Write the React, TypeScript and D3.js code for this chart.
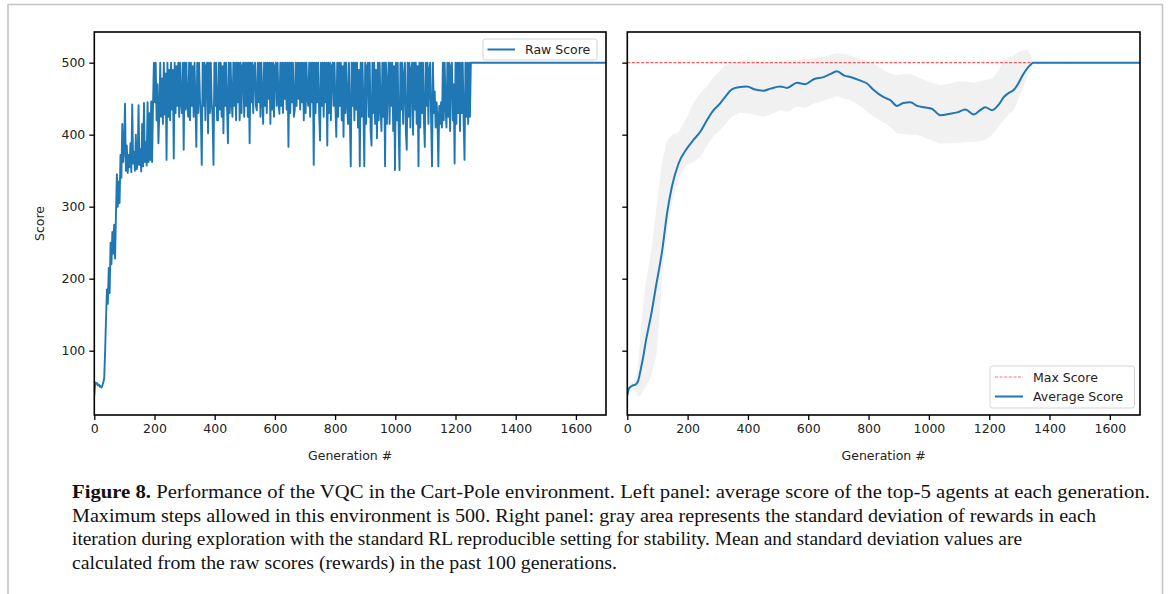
import React, { useEffect, useRef } from 'react';
import * as d3 from 'd3';

// Cart-Pole VQC figure: raw score (left) and running average with std band (right)

const BLUE = '#1f77b4';
const MAX_SCORE = 500;
const X_MAX = 1700;

// raw score, every 3rd generation (gen 0 .. 1251)
const RAW_STEP = 3;
const rawScore = [
  38, 56, 54, 55, 52, 53, 50, 51, 49, 52, 56,
  62, 100, 145, 185, 165, 215, 180, 250, 220, 265, 235, 275, 228, 290, 345, 300, 335, 305, 372, 340, 415, 362, 380,
  443, 350, 385, 347, 372, 355, 388, 348, 442, 360, 376, 350, 400, 352, 360, 441, 358, 380, 349, 415, 356, 444, 362, 390, 357, 445, 362, 430, 365, 446, 362, 440, 500,
  445, 500, 420, 470, 388, 430, 500, 425, 478, 415, 500, 428, 485, 365, 500, 425, 490, 420, 500, 435,
  490, 367, 500, 430, 495, 440, 500, 425, 500, 445, 430, 500, 379, 500, 435, 500, 440, 425, 500, 420,
  500, 440, 495, 425, 500, 445, 383, 500, 430, 500, 450, 425, 358, 500, 440, 500, 420, 495, 500, 402,
  500, 430, 500, 445, 425, 358, 500, 440, 500, 420, 420, 500, 435, 500, 425, 495, 402, 500, 440, 500,
  440, 388, 500, 430, 500, 445, 425, 500, 440, 500, 420, 500, 445, 500, 420, 500, 430, 495, 500, 425,
  500, 440, 500, 425, 500, 388, 500, 445, 500, 430, 495, 500, 440, 434, 500, 445, 500, 425, 500, 450,
  415, 500, 440, 500, 430, 500, 450, 500, 415, 500, 435, 500, 425, 495, 500, 440, 500, 445, 429, 500,
  440, 500, 430, 500, 450, 500, 435, 500, 383, 500, 430, 500, 445, 500, 425, 434, 500, 440, 500, 450,
  500, 435, 500, 445, 500, 420, 500, 430, 500, 450, 440, 500, 425, 500, 445, 500, 358, 500, 430, 500,
  445, 500, 430, 392, 500, 440, 500, 425, 500, 445, 500, 385, 500, 430, 500, 420, 495, 500, 440, 500,
  440, 397, 500, 425, 500, 440, 500, 420, 495, 397, 500, 430, 500, 445, 415, 500, 425, 356, 500, 440,
  500, 420, 500, 435, 500, 410, 490, 356, 500, 425, 500, 440, 356, 500, 415, 495, 500, 425, 500, 405,
  385, 500, 430, 500, 415, 490, 395, 500, 420, 500, 440, 405, 500, 425, 500, 356, 500, 415, 470, 500,
  415, 500, 440, 500, 405, 495, 351, 500, 420, 500, 410, 351, 500, 435, 500, 415, 480, 500, 405, 379,
  500, 425, 500, 410, 490, 500, 400, 500, 435, 500, 415, 495, 356, 500, 410, 500, 430, 500, 420, 383,
  500, 440, 500, 415, 490, 500, 420, 356, 500, 430, 460, 410, 445, 425, 356, 440, 415, 445, 410, 500,
  420, 500, 440, 410, 500, 425, 500, 405, 495, 500, 420, 470, 360, 500, 415, 500, 430, 500, 405, 500,
  430, 500, 420, 365, 500, 425, 500, 415, 500, 425,
  500,
];

// average of the last 100 generations, with the std band edges
const avgGen = [0, 6, 15, 28, 36, 45, 53, 61, 80, 97, 107, 116, 132, 148, 170, 198, 220, 242, 264, 286, 305, 320, 347, 370, 397, 420, 452, 475, 507, 529, 563, 590, 618, 651, 672, 695, 720, 740, 773, 795, 817, 850, 872, 894, 915, 939, 961, 985, 1010, 1038, 1070, 1094, 1121, 1149, 1170, 1187, 1210, 1232, 1248, 1265, 1281, 1295, 1309, 1326, 1337, 1345, 1700];
const avgScore = [38, 48, 51, 53, 58, 75, 92, 112, 152, 194, 217, 240, 291, 328, 360, 381, 393, 404, 420, 434, 442, 450, 463, 466, 467, 463, 461, 464, 467, 465, 472, 470, 477, 480, 484, 488, 482, 480, 475, 471, 462, 452, 448, 440, 444, 445, 440, 438, 436, 427, 429, 431, 435, 428, 434, 438, 434, 442, 452, 458, 462, 470, 481, 492, 497, 500, 500];
const bandHi = [42, 52, 56, 60, 80, 130, 165, 194, 240, 300, 335, 365, 392, 400, 403, 425, 445, 458, 467, 480, 488, 495, 500, 502, 504, 503, 501, 500, 502, 503, 504, 505, 506, 508, 511, 513, 512, 510, 505, 502, 499, 490, 485, 483, 484, 485, 480, 476, 472, 469, 471, 474, 474, 472, 474, 476, 478, 490, 502, 508, 510, 514, 517, 518, 512, 500, 500];
const bandLo = [34, 44, 46, 45, 36, 38, 44, 50, 65, 95, 150, 205, 265, 305, 340, 358, 362, 369, 385, 398, 405, 412, 425, 430, 430, 428, 425, 428, 434, 432, 439, 437, 443, 447, 450, 453, 450, 448, 440, 432, 425, 417, 411, 402, 401, 400, 400, 396, 392, 388, 388, 388, 390, 390, 391, 393, 400, 412, 420, 428, 434, 448, 462, 480, 490, 500, 500];

const xTicks = [0, 200, 400, 600, 800, 1000, 1200, 1400, 1600];
const yTicks = [100, 200, 300, 400, 500];

const captionLines = [
  { bold: 'Figure 8.', text: ' Performance of the VQC in the Cart-Pole environment. Left panel: average score of the top-5 agents at each generation.', width: 1078 },
  { bold: '', text: 'Maximum steps allowed in this environment is 500. Right panel: gray area represents the standard deviation of rewards in each', width: 1024 },
  { bold: '', text: 'iteration during exploration with the standard RL reproducible setting for stability. Mean and standard deviation values are', width: 950 },
  { bold: '', text: 'calculated from the raw scores (rewards) in the past 100 generations.', width: 545 },
];

const W = 1168;
const H = 594;
const FONT = 'DejaVu Sans, sans-serif';

const App = () => {
  const svgRef = useRef<SVGSVGElement>(null);

  useEffect(() => {
    if (!svgRef.current) return;
    const svg = d3.select(svgRef.current);
    svg.selectAll('*').remove();

    // outer page frame
    svg.append('path')
      .attr('d', `M8,${H} V4.5 H1162.5 V${H}`)
      .attr('fill', 'none')
      .attr('stroke', '#c4c4c4')
      .attr('stroke-width', 1.6);

    const top = 32, bottom = 415;
    const y = d3.scaleLinear().domain([10.7, 542.6]).range([bottom, top]);

    const panels = [
      { x0: 94.3, x1: 606, labels: true },
      { x0: 627.3, x1: 1140, labels: false },
    ];

    panels.forEach((p, pi) => {
      const x = d3.scaleLinear().domain([0, X_MAX]).range([p.x0, p.x1]);
      const g = svg.append('g');

      const clipId = `clip${pi}`;
      svg.append('clipPath').attr('id', clipId)
        .append('rect')
        .attr('x', p.x0).attr('y', top)
        .attr('width', p.x1 - p.x0).attr('height', bottom - top);

      const plot = g.append('g').attr('clip-path', `url(#${clipId})`);

      if (pi === 0) {
        const pts: [number, number][] = rawScore.map((v, i) => [i * RAW_STEP, v]);
        pts.push([X_MAX, MAX_SCORE]);
        const line = d3.line<[number, number]>().x(d => x(d[0])).y(d => y(d[1]));
        plot.append('path')
          .attr('d', line(pts))
          .attr('fill', 'none')
          .attr('stroke', BLUE)
          .attr('stroke-width', 1.9)
          .attr('stroke-linejoin', 'round');
      } else {
        const idx = avgGen.map((_, i) => i);
        const area = d3.area<number>()
          .x(i => x(avgGen[i]))
          .y0(i => y(bandLo[i]))
          .y1(i => y(bandHi[i]));
        plot.append('path')
          .attr('d', area(idx))
          .attr('fill', '#f1f1f1');

        plot.append('line')
          .attr('x1', p.x0).attr('x2', p.x1)
          .attr('y1', y(MAX_SCORE)).attr('y2', y(MAX_SCORE))
          .attr('stroke', '#ff3333')
          .attr('stroke-width', 1)
          .attr('stroke-dasharray', '3,1.6');

        const line = d3.line<number>()
          .x(i => x(avgGen[i]))
          .y(i => y(avgScore[i]))
          .curve(d3.curveMonotoneX);
        plot.append('path')
          .attr('d', line(idx))
          .attr('fill', 'none')
          .attr('stroke', BLUE)
          .attr('stroke-width', 2);
      }

      // x axis
      const xa = g.append('g')
        .attr('transform', `translate(0,${bottom})`)
        .call(d3.axisBottom(x).tickValues(xTicks).tickSize(5).tickPadding(4).tickFormat(d3.format('d')));
      xa.select('.domain').remove();
      xa.selectAll('line').attr('stroke', '#000').attr('stroke-width', 1.3);
      xa.selectAll('text').attr('font-family', FONT).attr('font-size', 12.5).attr('fill', '#222');

      // y axis
      const ya = g.append('g')
        .attr('transform', `translate(${p.x0},0)`)
        .call(d3.axisLeft(y).tickValues(yTicks).tickSize(5).tickPadding(4)
          .tickFormat(p.labels ? d3.format('d') : () => ''));
      ya.select('.domain').remove();
      ya.selectAll('line').attr('stroke', '#000').attr('stroke-width', 1.3);
      ya.selectAll('text').attr('font-family', FONT).attr('font-size', 12.5).attr('fill', '#222');

      // spines
      g.append('rect')
        .attr('x', p.x0).attr('y', top)
        .attr('width', p.x1 - p.x0).attr('height', bottom - top)
        .attr('fill', 'none')
        .attr('stroke', '#000')
        .attr('stroke-width', 1.6);

      g.append('text')
        .attr('x', (p.x0 + p.x1) / 2)
        .attr('y', 460)
        .attr('text-anchor', 'middle')
        .attr('font-family', FONT)
        .attr('font-size', 12.5)
        .attr('fill', '#222')
        .text('Generation #');

      if (p.labels) {
        g.append('text')
          .attr('transform', `translate(44,${(top + bottom) / 2}) rotate(-90)`)
          .attr('text-anchor', 'middle')
          .attr('font-family', FONT)
          .attr('font-size', 12.5)
          .attr('fill', '#222')
          .text('Score');
      }
    });

    // legends
    const legendBox = (lx: number, ly: number, lw: number, lh: number) =>
      svg.append('rect')
        .attr('x', lx).attr('y', ly).attr('width', lw).attr('height', lh)
        .attr('rx', 2.5)
        .attr('fill', 'rgba(255,255,255,0.85)')
        .attr('stroke', '#d4d4d4')
        .attr('stroke-width', 1);

    legendBox(483, 39, 114, 21);
    svg.append('line').attr('x1', 487.5).attr('x2', 515).attr('y1', 49.5).attr('y2', 49.5)
      .attr('stroke', BLUE).attr('stroke-width', 2);
    svg.append('text').attr('x', 525).attr('y', 54)
      .attr('font-family', FONT).attr('font-size', 12.5).attr('fill', '#222')
      .text('Raw Score');

    legendBox(990, 366, 144.5, 42);
    svg.append('line').attr('x1', 995).attr('x2', 1023).attr('y1', 377).attr('y2', 377)
      .attr('stroke', '#ff3333').attr('stroke-opacity', 0.7).attr('stroke-width', 1)
      .attr('stroke-dasharray', '3,1.6');
    svg.append('text').attr('x', 1033).attr('y', 381.5)
      .attr('font-family', FONT).attr('font-size', 12.5).attr('fill', '#222')
      .text('Max Score');
    svg.append('line').attr('x1', 995).attr('x2', 1023).attr('y1', 396.5).attr('y2', 396.5)
      .attr('stroke', BLUE).attr('stroke-width', 2);
    svg.append('text').attr('x', 1033).attr('y', 401)
      .attr('font-family', FONT).attr('font-size', 12.5).attr('fill', '#222')
      .text('Average Score');

    // caption
    captionLines.forEach((c, i) => {
      const t = svg.append('text')
        .attr('x', 72)
        .attr('y', 498 + i * 23.7)
        .attr('font-family', 'Liberation Serif, DejaVu Serif, serif')
        .attr('font-size', 18.5)
        .attr('fill', '#111')
        .attr('textLength', c.width)
        .attr('lengthAdjust', 'spacingAndGlyphs');
      if (c.bold) t.append('tspan').attr('font-weight', 'bold').text(c.bold);
      t.append('tspan').text(c.text);
    });
  }, []);

  return (
    <svg
      ref={svgRef}
      width={W}
      height={H}
      style={{ position: 'absolute', left: 0, top: 0, background: '#fff' }}
    />
  );
};

export default App;
